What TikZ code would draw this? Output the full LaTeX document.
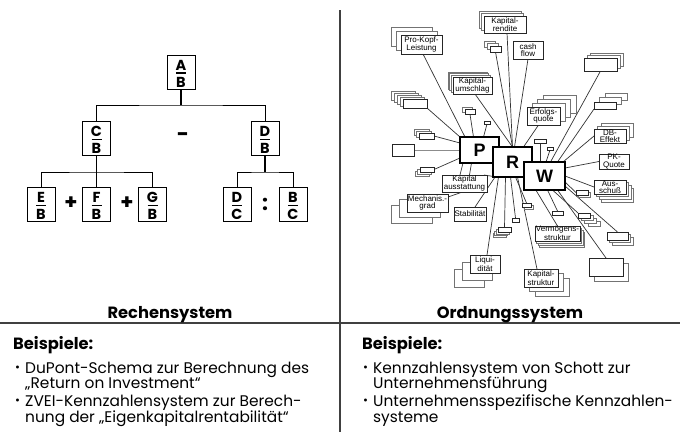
\documentclass[tikz,border=0pt]{standalone}
\usepackage{fontspec}
\setmainfont{Poppins}
\newfontfamily\labfont{Liberation Sans}
\usetikzlibrary{calc,backgrounds}

\tikzset{
  fbox/.style={draw=black, line width=0.9pt, minimum width=28pt, minimum height=34pt, inner sep=0pt, outer sep=0pt},
  flet/.style={inner sep=0pt, font=\fontsize{14.5}{14.5}\selectfont\bfseries},
  fbar/.style={line width=1.5pt},
  op/.style={inner sep=0pt, font=\fontsize{21}{21}\selectfont\bfseries},
  tree/.style={line width=0.9pt},
  trunk/.style={line width=1.8pt},
  backbox/.style={draw=black!55, fill=white, line width=0.6pt},
  frontbox/.style={draw=black!85, fill=white, line width=0.7pt, inner sep=0pt, outer sep=0pt,
    align=center, font=\labfont\fontsize{8}{7.3}\selectfont},
  core/.style={draw=black, fill=white, line width=1.6pt, inner sep=0pt, outer sep=0pt,
    font=\labfont\fontsize{18}{18}\selectfont\bfseries},
  spoke/.style={draw=black!80, line width=0.7pt},
  head/.style={inner sep=0pt, anchor=base, font=\fontsize{16.3}{16.3}\selectfont\bfseries},
  body/.style={inner sep=0pt, anchor=base west, font=\fontsize{15.4}{15.4}\selectfont},
  bhead/.style={inner sep=0pt, anchor=base west, font=\fontsize{16.3}{16.3}\selectfont\bfseries},
  bul/.style={inner sep=0pt, anchor=base west, font=\fontsize{12}{12}\selectfont},
  rule/.style={draw=black!75, line width=1.2pt},
}

% stacked card: name, x, y, width, height, number of cards behind, dx, dy, text
\newcommand\kstack[9]{%
  \ifnum#6>0
    \foreach \k in {#6,...,1}{%
      \draw[backbox] ({#2+\k*(#7)-#4/2},{#3+\k*(#8)-#5/2}) rectangle ++(#4,#5);}%
  \fi
  \node[frontbox, minimum width=#4pt, minimum height=#5pt] (#1) at (#2,#3) {#9};%
}

% fraction box: name, x, y, numerator, denominator
\newcommand\fracnode[5]{%
  \node[fbox] (#1) at (#2,#3) {};
  \node[flet, anchor=base] (#1-n) at ([yshift=2pt]#1.center) {#4};
  \node[flet, anchor=base] (#1-d) at ([yshift=-15pt]#1.center) {#5};
  \draw[fbar] ([xshift=-5pt,yshift=-0.8pt]#1.center) -- ([xshift=5pt,yshift=-0.8pt]#1.center);
}

\begin{document}
\begin{tikzpicture}[x=1pt,y=-1pt]
\useasboundingbox (0,0) rectangle (680,432);

% ---------- calculation tree ----------
\fracnode{ab}{181}{72}{A}{B}
\fracnode{cb}{96.5}{138.5}{C}{B}
\fracnode{db}{265}{138.5}{D}{B}
\fracnode{eb}{41}{204.5}{E}{B}
\fracnode{fb}{96.5}{204.5}{F}{B}
\fracnode{gb}{152.5}{204.5}{G}{B}
\fracnode{dc}{237}{204.5}{D}{C}
\fracnode{bc}{293}{204.5}{B}{C}

\coordinate (j1) at (181,105);
\coordinate (j2) at (96.5,172);
\coordinate (j3) at (265,172);

\draw[trunk] (ab.south) -- (j1);
\draw[tree] (cb.north) |- (j1) -| (db.north);
\draw[trunk] (cb.south) -- (j2);
\draw[tree] (eb.north) |- (j2) -| (gb.north);
\draw[tree] (fb.north) -- (j2);
\draw[tree, line width=1.2pt] (db.south) -- (j3);
\draw[tree] (dc.north) |- (j3) -| (bc.north);

\node[op] (plus1) at (71,203) {+};
\node[op] (plus2) at (127,203) {+};
\node[op] (minus) at (183,137) {-};
\node[op] (colon) at (265,204) {:};

% ---------- order system ----------
\kstack{kopf}{421.5}{44.5}{41}{19}{2}{-5}{-4}{Pro-Kopf-\\Leistung}
\kstack{rendite}{505}{24.5}{42}{17}{2}{-2.5}{-2.5}{Kapital-\\rendite}
\kstack{sA}{495.5}{49}{11}{6}{2}{-3}{-2.5}{}
\kstack{cash}{528}{50}{30}{18}{0}{0}{0}{cash\\flow}
\kstack{umschlag}{472.5}{85.5}{39}{17}{3}{-1.7}{-1.7}{Kapital-\\umschlag}
\kstack{sL1}{415}{103.5}{24}{9}{4}{-3}{-2}{}
\kstack{sS2}{470}{112}{10}{4.5}{1}{-3}{-2}{}
\kstack{tiny1}{487}{122.5}{6}{3}{0}{0}{0}{}
\kstack{sL2}{426.5}{136}{15}{6}{2}{-2.5}{-2}{}
\kstack{boxL3}{403}{150}{22}{12}{0}{0}{0}{}
\kstack{erfolg}{543.5}{116}{33}{18}{3}{5.3}{-4}{Erfolgs-\\quote}
\kstack{sUR1}{600.5}{64.5}{33}{13}{2}{3}{-2.5}{}
\kstack{sUR2}{605}{105.5}{22}{7}{2}{5.5}{-4.5}{}
\kstack{db}{610}{136}{32}{14}{2}{3.5}{-3}{DB-\\Effekt}
\kstack{sm1}{540}{141}{12}{4}{0}{0}{0}{}
\kstack{tiny2}{550}{148.5}{6}{3}{0}{0}{0}{}
\kstack{pk}{614}{161.5}{30}{15}{0}{0}{0}{PK-\\Quote}
\kstack{aus}{610}{187}{32}{14}{3}{2.5}{2.7}{Aus-\\schuß}
\kstack{sAus}{582}{192.5}{12}{5}{1}{2}{2}{}
\kstack{kaus}{464.5}{183.5}{45}{17}{0}{0}{0}{Kapital\\ausstattung}
\kstack{sL4}{427}{169.5}{14}{5}{2}{-2.5}{2}{}
\kstack{mech}{427.5}{203}{41}{18}{2}{-8}{5.5}{Mechanis.-\\grad}
\kstack{stab}{470}{214}{32}{14}{0}{0}{0}{Stabilität}
\kstack{tiny3}{515.5}{220}{7}{4}{0}{0}{0}{}
\kstack{sB1}{504.5}{230}{13}{4.5}{3}{-1.7}{1.7}{}
\kstack{sB2}{526.5}{205}{9}{4}{1}{2}{2}{}
\kstack{sB3}{557.5}{213}{11}{4}{0}{0}{0}{}
\kstack{sB4}{584}{215.5}{12}{5}{3}{3.3}{2.7}{}
\kstack{verm}{557.5}{233.5}{45}{15}{3}{1.4}{2}{Vermögens-\\struktur}
\kstack{sB5}{617.5}{236}{21}{8}{2}{2.5}{2.5}{}
\kstack{bigbox}{606}{267}{34}{18}{1}{5}{5}{}
\kstack{liq}{485}{264}{30}{18}{2}{-8}{7}{Liqui-\\dität}
\kstack{kstr}{541}{278}{34}{18}{2}{5.5}{4.5}{Kapital-\\struktur}

\node[core, minimum width=39pt, minimum height=26pt] (P) at (479.5,150) {P};
\node[core, minimum width=39pt, minimum height=30pt] (R) at (512.5,162) {R};
\node[core, minimum width=41pt, minimum height=28pt] (W) at (544.5,176) {W};

\begin{pgfonlayer}{background}
  % spokes into P
  \draw[spoke] ([xshift=1.5pt]kopf.south) -- ([xshift=-14.5pt]P.north);
  \draw[spoke] (sL1.south east) -- (P.north west);
  \draw[spoke] (sS2.south) -- ([xshift=-6pt]P.north);
  \draw[spoke] (tiny1.south) -- ([xshift=4pt]P.north);
  \draw[spoke] (sL2.east) -- ([yshift=7pt]P.west);
  \draw[spoke, draw=black!45] (boxL3.east) -- (P.west);
  \draw[spoke] (sL4.east) -- ([yshift=-8pt]P.west);
  \draw[spoke] ([xshift=-16.5pt]P.south) -- ([xshift=-4.5pt]kaus.north);
  \draw[spoke] ([xshift=-8pt]P.south) -- ([xshift=5pt]kaus.north);
  % spokes into R
  \draw[spoke] ([xshift=2pt]rendite.south) -- (R.north);
  \draw[spoke] (sA.south) -- (R.north);
  \draw[spoke] (cash.south) -- ([xshift=2pt]R.north);
  \draw[spoke] ([xshift=2.5pt]umschlag.south) -- (R.north);
  \draw[spoke] ([xshift=-5pt]erfolg.south) -- ([xshift=11pt]R.north);
  \draw[spoke] ([xshift=-3pt]kaus.north east) -- ([xshift=4pt]R.south west);
  \draw[spoke] ([yshift=6pt]mech.east) -- ([xshift=-2pt]kaus.south);
  \draw[spoke] ([xshift=5pt]stab.north) -- ([xshift=2pt]R.south west);
  \draw[spoke] ([xshift=2pt]liq.north) -- ([xshift=-14pt]R.south);
  \draw[spoke] (sB1.north) -- ([xshift=-7pt]R.south);
  \draw[spoke] (tiny3.north) -- ([xshift=-2pt]R.south);
  \draw[spoke] (sB2.north) -- ([xshift=3pt]R.south);
  \draw[spoke] ([xshift=-4pt]kstr.north) -- ([xshift=5pt]R.south);
  \draw[spoke] (verm.north) -- ([xshift=-4pt]R.south east);
  % spokes into W
  \draw[spoke] (sB3.north) -- ([xshift=3pt]W.south);
  \draw[spoke] (sB4.north west) -- ([xshift=8pt]W.south);
  \draw[spoke] (bigbox.north) -- ([xshift=13pt]W.south);
  \draw[spoke] (sB5.north) -- ([yshift=4pt]W.south east);
  \draw[spoke] (sAus.west) -- ([yshift=-6pt]W.east);
  \draw[spoke] (aus.west) -- (W.east);
  \draw[spoke] (pk.west) -- ([yshift=8pt]W.east);
  \draw[spoke] (db.west) -- ([xshift=-2pt]W.north east);
  \draw[spoke] (sUR2.south west) -- ([xshift=13pt]W.north);
  \draw[spoke] (sUR1.south) -- ([xshift=6pt]W.north);
  \draw[spoke] (sm1.south) -- ([xshift=-4.5pt]W.north);
  \draw[spoke] (tiny2.south) -- ([xshift=1.5pt]W.north);
\end{pgfonlayer}

% ---------- frame and captions ----------
\coordinate (vtop) at (340,10);
\coordinate (vbot) at (340,432);
\coordinate (hl) at (0,323);
\coordinate (hr) at (680,323);
\draw[rule] (vtop) -- (vbot);
\draw[rule] (hl) -- (hr);

\node[head] (rech) at (170,318) {Rechensystem};
\node[head] (ordn) at (510,318) {Ordnungssystem};

\node[bhead] (bspL) at (13,349) {Beispiele:};
\node[bul] (bL1) at (15,371) {•};
\node[body] (tL1) at (25,373) {DuPont-Schema zur Berechnung des};
\node[body] (tL2) at (25,388) {„Return on Investment“};
\node[bul] (bL2) at (15,404) {•};
\node[body] (tL3) at (25,406) {ZVEI-Kennzahlensystem zur Berech-};
\node[body] (tL4) at (25,422) {nung der „Eigenkapitalrentabilität“};

\node[bhead] (bspR) at (362,349) {Beispiele:};
\node[bul] (bR1) at (363,371) {•};
\node[body] (tR1) at (373,373) {Kennzahlensystem von Schott zur};
\node[body] (tR2) at (373,388) {Unternehmensführung};
\node[bul] (bR2) at (363,404) {•};
\node[body] (tR3) at (373,406) {Unternehmensspezifische Kennzahlen-};
\node[body] (tR4) at (373,422) {systeme};
\end{tikzpicture}
\end{document}
